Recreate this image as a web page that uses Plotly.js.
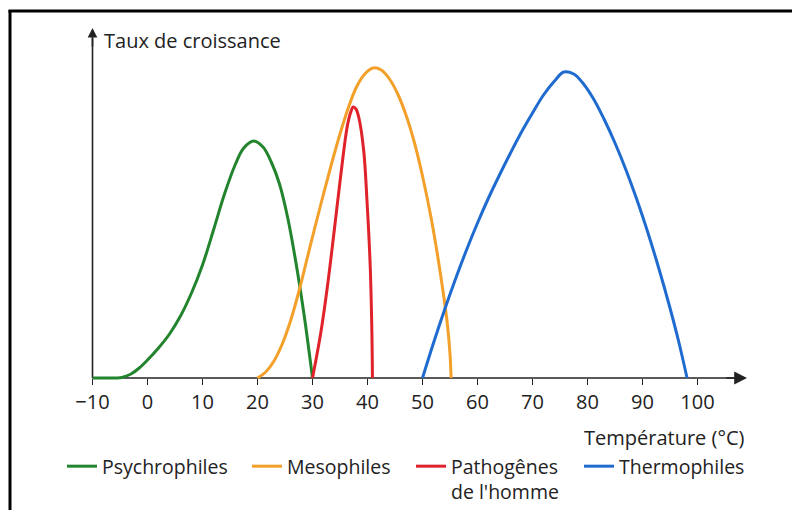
<!DOCTYPE html>
<html>
<head>
<meta charset="utf-8">
<script src="https://cdn.plot.ly/plotly-3.0.1.min.js"></script>
<style>
html,body{margin:0;padding:0;background:#fff;}
#chart{width:792px;height:510px;}
</style>
</head>
<body>
<div id="chart"></div>
<script>
// ---- data (temperature °C, growth rate in arbitrary units) ----
const psychroT = [-10, -7, -5.5, -4.5, -3, -1.5, 0, 2, 4, 6, 8, 10, 12, 14, 16, 17.5, 19.3, 21, 22.5, 24, 25.5, 27, 28.5, 30];
const psychroY = [0, 0, 0, 0.8, 4, 10, 18, 30, 44, 62, 85, 113, 148, 184, 214, 230, 237, 231, 216, 194, 160, 115, 62, 0];

const mesoT = [20, 21.5, 23, 24.5, 26, 27.5, 29, 30.5, 32, 33.5, 35, 36.5, 38, 39.5, 41, 42.5, 44, 45.5, 47, 48.5, 50, 51.5, 52.7, 53.7, 54.5, 55, 55.2];
const mesoY = [0, 6, 17, 34, 57, 86, 119, 152, 184, 215, 244, 270, 291, 304, 310, 308, 299, 284, 263, 236, 202, 162, 124, 88, 55, 24, 0];

const pathoT = [30, 31.5, 32.7, 33.9, 35.1, 36.3, 36.9, 37.4, 37.9, 38.4, 39.3, 39.9, 40.5, 40.8, 40.9];
const pathoY = [0, 45, 91, 145, 201, 251, 265, 271, 269, 261, 228, 178, 111, 45, 0];

const thermoT = [50, 52, 54, 56, 58, 60, 62, 64, 66, 68, 70, 72, 74, 75.7, 77.5, 79, 81, 83, 85, 87, 89, 91, 93, 95, 96.6, 98.1];
const thermoY = [0, 35, 68, 99, 128, 155, 180, 203, 225, 246, 265, 283, 297, 306, 304, 296, 280, 259, 235, 208, 178, 145, 109, 70, 36, 0];

const seriesNames = ["Psychrophiles", "Mesophiles", "Pathogênes<br>de l'homme", "Thermophiles"];
const seriesColors = ["#23842e", "#f3a02a", "#e0222a", "#1f6bcf"];

const tickVals = [-10, 0, 10, 20, 30, 40, 50, 60, 70, 80, 90, 100];
const tickText = ["\u221210", "0", "10", "20", "30", "40", "50", "60", "70", "80", "90", "100"];

const xTitle = "Température (°C)";
const yTitle = "Taux de croissance";

// ---- build ----
const legendIds = ["legend", "legend2", "legend3", "legend4"];
const xs = [psychroT, mesoT, pathoT, thermoT];
const ys = [psychroY, mesoY, pathoY, thermoY];
const traces = xs.map((x, i) => ({
  x: x, y: ys[i], type: "scatter", mode: "lines", name: seriesNames[i],
  legend: legendIds[i],
  line: {color: seriesColors[i], width: 3, shape: "spline", smoothing: 1.0},
  hoverinfo: "skip"
}));

const font = "'Open Sans', 'Noto Sans', sans-serif";
const txt = "#222";
const ax = "#222";

// pixel geometry helpers (plot area 87..750 x, 24..382 y)
const L = 87, R = 42, T = 24, B = 128, W = 792 - L - R, H = 510 - T - B;
const px2fx = p => (p - L) / W;
const py2fy = p => (510 - B - p) / H;

const legendX = [62, 247, 411, 579];

const layout = {
  width: 792, height: 510,
  margin: {l: L, r: R, t: T, b: B, pad: 0, autoexpand: false},
  paper_bgcolor: "#fff", plot_bgcolor: "#fff",
  font: {family: font, color: txt, size: 20},
  showlegend: true,
  xaxis: {
    range: [-11, -11 + W / 5.5], showgrid: false, zeroline: false, showline: false,
    anchor: "free", position: 4 / H,
    tickmode: "array", tickvals: tickVals, ticktext: tickText,
    ticks: "outside", ticklen: 6, tickwidth: 1.6, tickcolor: ax,
    tickfont: {family: font, size: 20, color: txt}, fixedrange: true
  },
  yaxis: {
    range: [-4, H - 4], showgrid: false, zeroline: false, showline: false,
    showticklabels: false, ticks: "", fixedrange: true
  },
  shapes: [
    {type: "line", xref: "x", yref: "y", x0: -10, x1: 107, y0: 0, y1: 0, layer: "below",
     line: {color: ax, width: 1.6}},
    {type: "line", xref: "x", yref: "y", x0: -10, x1: -10, y0: 0, y1: 340, layer: "below",
     line: {color: ax, width: 1.6}},
    {type: "line", xref: "paper", yref: "paper", x0: px2fx(8.5), x1: px2fx(800), y0: py2fy(11), y1: py2fy(11),
     line: {color: "#000", width: 3}},
    {type: "line", xref: "paper", yref: "paper", x0: px2fx(10), x1: px2fx(10), y0: py2fy(10), y1: py2fy(520),
     line: {color: "#000", width: 3}}
  ],
  annotations: [
    {xref: "x", yref: "y", x: -10 + (747 - 92.5) / 5.5, y: 0, axref: "x", ayref: "y",
     ax: -10 + (725 - 92.5) / 5.5, ay: 0, showarrow: true, arrowhead: 2, arrowsize: 1.6,
     arrowwidth: 1.6, arrowcolor: ax, text: "", standoff: 0},
    {xref: "x", yref: "y", x: -10, y: 350, axref: "x", ayref: "y",
     ax: -10, ay: 330, showarrow: true, arrowhead: 2, arrowsize: 1.2,
     arrowwidth: 1.6, arrowcolor: ax, text: "", standoff: 0},
    {xref: "x", yref: "y", x: -10 + (102 - 92.5) / 5.5, y: 338, xanchor: "left", yanchor: "middle",
     text: yTitle, showarrow: false, font: {family: font, size: 20, color: txt}},
    {xref: "paper", yref: "paper", x: px2fx(747), y: py2fy(437), xanchor: "right", yanchor: "middle",
     text: xTitle, showarrow: false, font: {family: font, size: 20, color: txt}}
  ]
};

legendIds.forEach((id, i) => {
  layout[id] = {
    orientation: "v", x: px2fx(legendX[i]), xanchor: "left", y: py2fy(447), yanchor: "top",
    font: {family: font, size: 19.5, color: txt}, valign: "top",
    bgcolor: "rgba(0,0,0,0)", borderwidth: 0
  };
});

Plotly.newPlot("chart", traces, layout, {displayModeBar: false, staticPlot: true});
</script>
</body>
</html>
